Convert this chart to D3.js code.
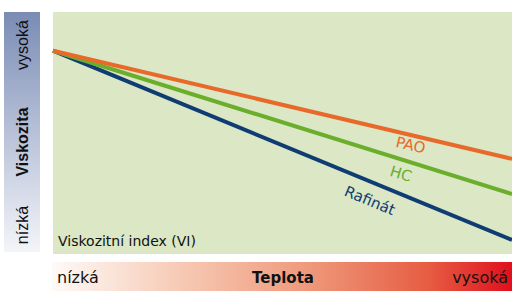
<!DOCTYPE html>
<html>
<head>
<meta charset="utf-8">
<script src="https://cdn.jsdelivr.net/npm/d3@7"></script>
<style>
  body { margin: 0; background: #fff; }
  text { font-family: "Liberation Sans", Arial, sans-serif; }
</style>
</head>
<body>
<svg id="chart" width="512" height="291"></svg>
<script>
  // temperature positions (relative, low -> high)
  var temps = [0, 100];
  // relative viscosity at low / high temperature
  var seriesNames = ['PAO', 'HC', 'Rafinát'];
  var paoValues = [84, 39.3];
  var hcValues = [84, 24.8];
  var rafinatValues = [84, 5.8];
  var seriesColors = ['#e8692a', '#6aae2b', '#0f3c73'];
  var axisLabels = { yLow: 'nízká', yHigh: 'vysoká', yTitle: 'Viskozita',
                     xLow: 'nízká', xHigh: 'vysoká', xTitle: 'Teplota' };

  var svg = d3.select('#chart');
  var plot = { left: 53, right: 512, top: 12, bottom: 254 };
  var wide = '"DejaVu Sans", sans-serif';

  var x = d3.scaleLinear().domain([0, 100]).range([plot.left, plot.right]);
  var y = d3.scaleLinear().domain([0, 100]).range([plot.bottom, plot.top]);

  var defs = svg.append('defs');
  var vg = defs.append('linearGradient').attr('id', 'vgrad')
    .attr('x1', 0).attr('y1', 0).attr('x2', 0).attr('y2', 1);
  vg.append('stop').attr('offset', '0%').attr('stop-color', '#7a8cb5');
  vg.append('stop').attr('offset', '100%').attr('stop-color', '#f4f5f9');

  var hg = defs.append('linearGradient').attr('id', 'hgrad');
  hg.append('stop').attr('offset', '0%').attr('stop-color', '#fefaf8');
  hg.append('stop').attr('offset', '30%').attr('stop-color', '#f6c6b0');
  hg.append('stop').attr('offset', '55%').attr('stop-color', '#ef9a7c');
  hg.append('stop').attr('offset', '82%').attr('stop-color', '#e65c42');
  hg.append('stop').attr('offset', '100%').attr('stop-color', '#e00f1c');

  // viscosity bar
  svg.append('rect').attr('x', 4).attr('y', 12).attr('width', 36).attr('height', 240)
    .attr('fill', 'url(#vgrad)');
  // temperature bar
  svg.append('rect').attr('x', 52).attr('y', 262).attr('width', 460).attr('height', 29)
    .attr('fill', 'url(#hgrad)');

  // plot background
  svg.append('rect').attr('x', plot.left).attr('y', plot.top)
    .attr('width', plot.right - plot.left).attr('height', plot.bottom - plot.top)
    .attr('fill', '#dbe7c5');

  var series = [paoValues, hcValues, rafinatValues];
  var line = d3.line().x(function (d, i) { return x(temps[i]); }).y(function (d) { return y(d); });

  // draw back to front: Rafinát, HC, PAO
  [2, 1, 0].forEach(function (k) {
    svg.append('path').datum(series[k])
      .attr('d', line)
      .attr('fill', 'none')
      .attr('stroke', seriesColors[k])
      .attr('stroke-width', 4);
  });

  // series labels sit just below their lines
  var labelPos = [
    { t: 78.4, off: 15 },
    { t: 76.7, off: 19 },
    { t: 70.5, off: 23 }
  ];
  series.forEach(function (vals, k) {
    var p = labelPos[k];
    var px = x(p.t);
    var py = y(vals[0] + (vals[1] - vals[0]) * p.t / 100);
    var ang = Math.atan2(y(vals[1]) - y(vals[0]), x(100) - x(0)) * 180 / Math.PI;
    svg.append('text')
      .attr('transform', 'translate(' + px + ',' + py + ') rotate(' + ang + ')')
      .attr('dy', p.off)
      .attr('text-anchor', 'middle')
      .style('font-family', wide)
      .attr('font-size', 15)
      .attr('fill', seriesColors[k])
      .text(seriesNames[k]);
  });

  svg.append('text').attr('x', 58).attr('y', 246)
    .style('font-family', wide)
    .attr('font-size', 14).attr('fill', '#111')
    .text('Viskozitní index (VI)');

  // vertical axis labels
  function vlabel(txt, cy, bold) {
    svg.append('text')
      .attr('transform', 'translate(28,' + cy + ') rotate(-90)')
      .attr('text-anchor', 'middle')
      .attr('font-size', 16)
      .attr('font-weight', bold ? 'bold' : 'normal')
      .attr('fill', '#111')
      .text(txt);
  }
  vlabel(axisLabels.yHigh, 45, false);
  vlabel(axisLabels.yTitle, 142, true);
  vlabel(axisLabels.yLow, 225, false);

  // horizontal axis labels
  svg.append('text').attr('x', 57).attr('y', 283).style('font-family', wide)
    .attr('font-size', 16).attr('fill', '#111')
    .text(axisLabels.xLow);
  svg.append('text').attr('x', 283).attr('y', 283).style('font-family', wide)
    .attr('font-size', 15).attr('font-weight', 'bold')
    .attr('text-anchor', 'middle').attr('fill', '#111').text(axisLabels.xTitle);
  svg.append('text').attr('x', 508).attr('y', 283).style('font-family', wide)
    .attr('font-size', 16)
    .attr('text-anchor', 'end').attr('fill', '#111').text(axisLabels.xHigh);
</script>
</body>
</html>
